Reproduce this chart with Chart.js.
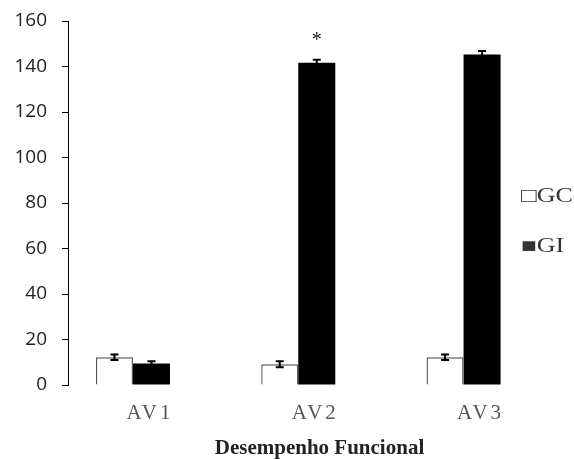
<!DOCTYPE html>
<html><head><meta charset="utf-8">
<script src="https://cdn.jsdelivr.net/npm/chart.js@4/dist/chart.umd.min.js"></script>
<style>html,body{margin:0;padding:0;background:#fff;} #wrap{width:574px;height:459px;}</style>
</head><body><div id="wrap"><canvas id="c" width="574" height="459"></canvas></div>
<script>
const categories = ['AV1', 'AV2', 'AV3'];
const seriesNames = ['GC', 'GI'];
const gcValues = [12.2, 9.1, 12.2];
const gcErrors = [1.2, 1.3, 1.2];
const giValues = [9.5, 141.7, 145.3];
const giErrors = [0.9, 1.3, 1.5];
const giMarks = ['', '*', ''];
const yTicks = [0, 20, 40, 60, 80, 100, 120, 140, 160];
const xTitle = 'Desempenho Funcional';
const legendSymbols = ['\u25A1', '\u25A0'];

const errorBars = {
  id: 'errorBars',
  afterDatasetsDraw(chart) {
    const ctx = chart.ctx, ys = chart.scales.y;
    chart.data.datasets.forEach((ds, di) => {
      const meta = chart.getDatasetMeta(di);
      meta.data.forEach((bar, j) => {
        const v = ds.data[j].y, e = ds.errors[j];
        const top = ys.getPixelForValue(v + e), bot = ys.getPixelForValue(v - e);
        const x = bar.x;
        ctx.save();
        ctx.strokeStyle = '#000'; ctx.lineWidth = 2;
        ctx.beginPath();
        ctx.moveTo(x, top); ctx.lineTo(x, bot);
        ctx.moveTo(x - 4, top); ctx.lineTo(x + 4, top);
        ctx.moveTo(x - 4, bot); ctx.lineTo(x + 4, bot);
        ctx.stroke();
        if (ds.marks && ds.marks[j]) {
          ctx.fillStyle = '#222';
          ctx.font = '20px "Liberation Serif", serif';
          ctx.textAlign = 'center'; ctx.textBaseline = 'middle';
          ctx.fillText(ds.marks[j], x, top - 19);
        }
        ctx.restore();
      });
    });
  }
};

function wrapDraw(chart, obj, method, setup) {
  const key = '_wr_' + method;
  if (obj[key]) return;
  const orig = obj[method];
  obj[method] = function () {
    const c = chart.ctx;
    c.save();
    setup(c, this);
    const r = orig.apply(this, arguments);
    c.restore();
    return r;
  };
  obj[key] = true;
}

const legendPlace = {
  id: 'legendPlace',
  afterLayout(chart) {
    const lg = chart.legend;
    if (lg) {
      lg.left = 481; lg.top = 157;
      wrapDraw(chart, lg, 'draw', (c, self) => {
        const x0 = self.left + 40;
        c.translate(x0, 0); c.scale(1.3, 1); c.translate(-x0, 0);
      });
    }
    wrapDraw(chart, chart.scales.x, 'drawLabels', (c) => { c.letterSpacing = '3px'; });
  }
};

new Chart(document.getElementById('c'), {
  type: 'bar',
  data: {
    datasets: [
      { label: seriesNames[0], data: gcValues.map((v, i) => ({ x: i + 1, y: v })), errors: gcErrors,
        backgroundColor: '#fff', borderColor: '#555', borderWidth: 1.4,
        categoryPercentage: 0.448, barPercentage: 1 },
      { label: seriesNames[1], data: giValues.map((v, i) => ({ x: i + 1, y: v })), errors: giErrors, marks: giMarks,
        backgroundColor: '#000', borderColor: '#000', borderWidth: 0,
        categoryPercentage: 0.448, barPercentage: 1 }
    ]
  },
  options: {
    responsive: false,
    animation: false,
    layout: { padding: { top: 21, right: 3, left: 0, bottom: 0 } },
    plugins: {
      tooltip: { enabled: false },
      legend: {
        position: 'chartArea',
        align: 'start',
        labels: {
          boxWidth: 0, boxHeight: 0, padding: 30,
          font: { family: '"Liberation Serif", serif', size: 20 },
          color: '#333',
          generateLabels: (chart) => chart.data.datasets.map((ds, i) => ({
            text: legendSymbols[i] + ds.label, fillStyle: 'transparent', strokeStyle: 'transparent',
            lineWidth: 0, hidden: false, datasetIndex: i, fontColor: '#333'
          }))
        }
      }
    },
    scales: {
      x: {
        type: 'linear', min: 0.607, max: 3.65, bounds: 'data', offset: false,
        afterBuildTicks: s => { s.ticks = categories.map((c, i) => ({ value: i + 1 })); },
        ticks: {
          autoSkip: false, maxRotation: 0, minRotation: 0, padding: 16, color: '#555', labelOffset: 17,
          font: { family: '"Liberation Serif", serif', size: 21 },
          callback: v => categories[Math.round(v) - 1]
        },
        grid: { display: false, drawTicks: false, offset: false },
        border: { display: false },
        title: {
          display: true, text: xTitle, color: '#222',
          font: { family: '"Liberation Serif", serif', size: 21, weight: 'bold', lineHeight: 1 },
          padding: { top: 12, bottom: 0 }
        },
        afterFit: s => { s.height = 74; s.paddingLeft = 0; s.paddingRight = 0; }
      },
      y: {
        min: 0, max: 160,
        afterBuildTicks: s => { s.ticks = yTicks.map(v => ({ value: v })); },
        ticks: { font: { family: '"Open Sans", sans-serif', size: 19 }, color: '#222', padding: 15 },
        grid: { display: true, drawOnChartArea: false, drawTicks: true, tickLength: 6, color: '#000', lineWidth: 1 },
        border: { display: true, color: '#000', width: 1 },
        afterFit: s => { s.width = 68; s.paddingTop = 0; s.paddingBottom = 0; }
      }
    }
  },
  plugins: [errorBars, legendPlace]
});
</script>
</body></html>
